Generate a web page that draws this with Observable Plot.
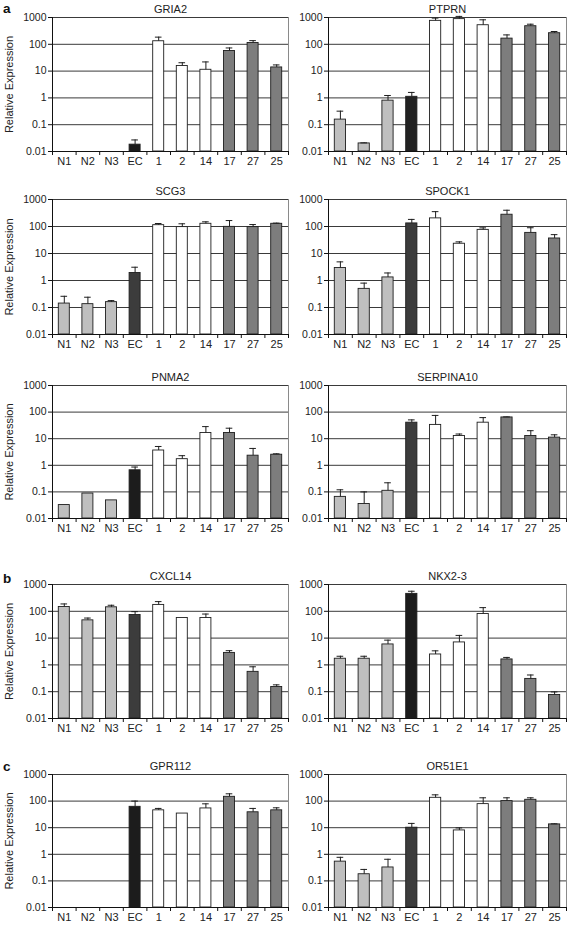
<!DOCTYPE html>
<html><head><meta charset="utf-8">
<script src="https://cdn.jsdelivr.net/npm/d3@7"></script>
<script src="https://cdn.jsdelivr.net/npm/@observablehq/plot@0.6"></script>
<style>
html,body{margin:0;padding:0;background:#fff;}
#root{position:relative;width:567px;height:928px;overflow:hidden;font-family:"Liberation Sans",Arial,sans-serif;}
.panel{position:absolute;}
.panel svg{overflow:visible;}
</style></head><body><div id="root"></div>
<script>
// ---- data ----
const categories = ["N1","N2","N3","EC","1","2","14","17","27","25"];
const groups = ["N","N","N","EC","T1","T1","T1","T2","T2","T2"];
const yTicks = [0.01, 0.1, 1, 10, 100, 1000];
const sectionLabels = ["a", "b", "c"];
const yTitle = "Relative Expression";

const gria2Mean  = [null,null,null,0.018,130,15.5,11.2,56,112,13.7];
const gria2Upper = [null,null,null,0.027,185,20.5,22,73,137,17];
const ptprnMean  = [0.155,0.020,0.79,1.1,750,870,515,163,473,259];
const ptprnUpper = [0.32,0.021,1.23,1.6,950,1100,820,224,562,300];
const scg3Mean   = [0.14,0.133,0.158,1.9,112,95,126,97,95,126];
const scg3Upper  = [0.26,0.24,0.18,3.1,129,126,149,166,118,133];
const spock1Mean = [2.9,0.49,1.3,130,200,23,75,273,58,36];
const spock1Upper= [4.9,0.8,1.9,183,355,27,89,400,90,50];
const pnma2Mean  = [0.032,0.087,0.048,0.65,3.6,1.7,16.4,16.4,2.3,2.5];
const pnma2Upper = [null,null,null,0.86,5.1,2.3,28.5,24.8,4.3,2.7];
const serpinMean = [0.065,0.035,0.11,40,33,12.6,40,63,12.6,11];
const serpinUpper= [0.12,0.1,0.22,51,75,15,62,66,20,14];
const cxcl14Mean = [145,46,141,73,173,56,56,2.8,0.55,0.15];
const cxcl14Upper= [188,56,168,97,230,null,79,3.4,0.85,0.18];
const nkx23Mean  = [1.7,1.7,5.8,447,2.45,6.9,79,1.6,0.3,0.075];
const nkx23Upper = [2.1,2.1,8.4,560,3.35,12.6,137,1.9,0.42,0.098];
const gpr112Mean = [null,null,null,61,45,34,53,145,38,45];
const gpr112Upper= [null,null,null,100,53,null,79,188,53,56];
const or51e1Mean = [0.53,0.178,0.32,10,133,7.9,77,100,112,13.3];
const or51e1Upper= [0.77,0.27,0.65,14.5,172,9.8,133,133,133,14];

const panels = [
  ["GRIA2", gria2Mean, gria2Upper],
  ["PTPRN", ptprnMean, ptprnUpper],
  ["SCG3", scg3Mean, scg3Upper],
  ["SPOCK1", spock1Mean, spock1Upper],
  ["PNMA2", pnma2Mean, pnma2Upper],
  ["SERPINA10", serpinMean, serpinUpper],
  ["CXCL14", cxcl14Mean, cxcl14Upper],
  ["NKX2-3", nkx23Mean, nkx23Upper],
  ["GPR112", gpr112Mean, gpr112Upper],
  ["OR51E1", or51e1Mean, or51e1Upper]
];

// ---- styles / layout ----
const ecShade = {"GRIA2":"#1c1c1c","PTPRN":"#222","SCG3":"#3c3c3c","SPOCK1":"#3c3c3c","PNMA2":"#1c1c1c",
  "SERPINA10":"#3c3c3c","CXCL14":"#3c3c3c","NKX2-3":"#1c1c1c","GPR112":"#1c1c1c","OR51E1":"#3c3c3c"};
const rowTop = [17, 199, 385, 584, 774];
const rowH = [134, 135, 133, 134, 133];
const FONT = '"Liberation Sans", Arial, sans-serif';

function fillFor(g, gene) {
  if (g === "N") return "#bfbfbf";
  if (g === "EC") return ecShade[gene];
  if (g === "T1") return "#ffffff";
  return "#7d7d7d";
}

function panel(gene, mean, upper, col, row) {
  const rows = categories.map((c, i) => ({c, i, g: groups[i], v: mean[i], u: upper[i]}));
  const bars = rows.filter(d => d.v != null);
  const errs = rows.filter(d => d.v != null && d.u != null);
  const left = col === 0;
  const w = left ? 290 : 287;
  const ml = left ? 52 : 48, mr = left ? 2 : 1;
  const marks = [
    Plot.ruleY(yTicks.slice(1), {stroke: "#3a3a3a", strokeWidth: 1}),
    Plot.ruleX([10], {y1: 0.01, y2: 1000, stroke: "#8a8a8a"}),
    Plot.rect(bars, {x1: d => d.i, x2: d => d.i + 1, y1: 0.01, y2: "v",
      fill: d => fillFor(d.g, gene), stroke: "#1e1e1e", strokeWidth: 0.9, insetLeft: 6.3, insetRight: 6.3}),
    Plot.ruleX(errs, {x: d => d.i + 0.5, y1: "v", y2: "u", stroke: "#1e1e1e", strokeWidth: 1}),
    Plot.ruleY(errs, {y: "u", x1: d => d.i + 0.36, x2: d => d.i + 0.64, stroke: "#1e1e1e", strokeWidth: 1}),
    Plot.ruleX([0], {y1: 0.01, y2: 1000, stroke: "#111"}),
    Plot.ruleY([0.01], {stroke: "#111"}),
    Plot.axisY(yTicks, {tickSize: 4, tickPadding: 2, tickFormat: d => String(d), fontSize: 10.5, label: null, stroke: "#111"}),
    Plot.axisX(d3.range(0, 11), {tickSize: 4, tickFormat: () => "", label: null, stroke: "#111"}),
    Plot.axisX(d3.range(10).map(i => i + 0.5), {tickSize: 0, tickPadding: 6, fontSize: 11,
      tickFormat: x => categories[Math.floor(x)], label: null}),
    Plot.text([gene], {frameAnchor: "top", lineAnchor: "middle", dy: -8, fontSize: 11, fill: "#222"})
  ];
  if (left) marks.push(Plot.text([yTitle], {frameAnchor: "left", textAnchor: "middle", lineAnchor: "middle",
    rotate: -90, dx: -43, fontSize: 11, fill: "#222"}));
  const svg = Plot.plot({
    width: w, height: rowH[row] + 40,
    marginLeft: ml, marginRight: mr, marginTop: 20, marginBottom: 20,
    x: {type: "linear", domain: [0, 10]},
    y: {type: "log", domain: [0.01, 1000]},
    style: {fontFamily: FONT, color: "#222", background: "transparent", overflow: "visible"},
    marks
  });
  const div = document.createElement("div");
  div.className = "panel";
  div.style.left = (left ? 0 : 280) + "px";
  div.style.top = (rowTop[row] - 20) + "px";
  div.appendChild(svg);
  return div;
}

const root = document.getElementById("root");
panels.forEach(([gene, m, u], k) => {
  root.appendChild(panel(gene, m, u, k % 2, Math.floor(k / 2)));
});

// section letters
const ns = "http://www.w3.org/2000/svg";
const ov = document.createElementNS(ns, "svg");
ov.setAttribute("width", 567); ov.setAttribute("height", 928);
ov.style.position = "absolute"; ov.style.left = "0"; ov.style.top = "0"; ov.style.pointerEvents = "none";
const letterBase = [12.5, 583, 771];
sectionLabels.forEach((s, i) => {
  const t = document.createElementNS(ns, "text");
  t.setAttribute("x", 3); t.setAttribute("y", letterBase[i]);
  t.setAttribute("font-family", FONT); t.setAttribute("font-weight", "bold"); t.setAttribute("font-size", 13.5);
  t.setAttribute("fill", "#111");
  t.textContent = s;
  ov.appendChild(t);
});
root.appendChild(ov);
</script>
</body></html>
